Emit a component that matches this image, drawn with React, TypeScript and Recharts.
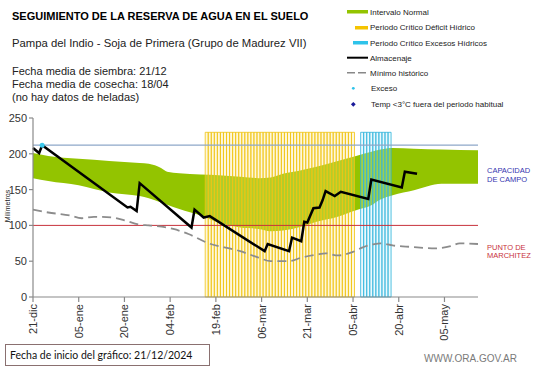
import { ComposedChart, Area, Bar, Line, XAxis, YAxis, ReferenceLine } from 'recharts'

// eje X: días desde el 21-dic
const lastDay = 146
const tickDays = [0, 15, 30, 45, 60, 75, 90, 105, 120, 135]
const tickLabels = ['21-dic', '05-ene', '20-ene', '04-feb', '19-feb', '06-mar', '21-mar', '05-abr', '20-abr', '05-may']
const yTicks = [0, 50, 100, 150, 200, 250]

// [día, mm]
const almacenaje: [number, number][] = [
  [0, 208], [2, 201], [3, 212], [31, 125], [32, 126], [34, 120], [35, 159],
  [52, 97], [53, 122], [56, 111], [58, 113], [76, 64], [77, 74], [84, 64],
  [85, 83], [88, 78], [89, 105], [90, 104], [92, 124], [94, 125], [95, 135],
  [96, 148], [99, 141], [101, 147], [110, 137], [111, 164], [121, 153],
  [122, 175], [126, 172],
]

// [día, mínimo, máximo] del intervalo normal
const intervaloNormal: [number, number, number][] = [
  [0, 166, 201], [5, 162, 197], [15, 156, 193], [25, 146, 190], [35, 141, 187],
  [38, 138, 186], [42, 132, 180], [44, 129, 175], [48, 123, 173], [55, 114, 171],
  [61, 104, 170], [68, 97, 168], [74, 95, 166], [78, 92, 167], [82, 93, 172],
  [88, 98, 177], [93, 105, 182], [100, 112, 190], [106, 121, 197], [111, 128, 203],
  [114, 136, 206], [118, 142, 208], [125, 149, 207], [134, 158, 206], [146, 158, 205],
]

const minimoHistorico: [number, number][] = [
  [0, 122], [5, 118], [12, 114], [16, 110], [20, 112], [26, 111], [30, 107],
  [35, 101], [38, 100], [46, 95], [51, 88], [57, 76], [68, 64], [74, 55],
  [78, 50], [84, 50], [88, 55], [93, 59], [96, 61], [100, 58], [105, 63],
  [108, 69], [112, 74], [114, 75], [118, 72], [124, 70], [132, 68], [137, 71],
  [140, 75], [146, 74],
]

const excesos: [number, number][] = [[3, 212]]

const periodoDeficit = [57, 105]
const periodoExcesos = [108, 117]
const alturaPeriodo = 230

const capacidadCampo = 212
const puntoMarchitez = 100

type Row = {
  day: number
  almacenaje?: number
  normal?: [number, number]
  minimo?: number
  exceso?: number
  deficit?: number
  excesoP?: number
}

const rows: Row[] = []
for (let d = 0; d <= lastDay; d++) {
  const r: Row = { day: d }
  if (d >= periodoDeficit[0] && d <= periodoDeficit[1]) r.deficit = alturaPeriodo
  if (d >= periodoExcesos[0] && d <= periodoExcesos[1]) r.excesoP = alturaPeriodo
  rows.push(r)
}
almacenaje.forEach(([d, v]) => (rows[d].almacenaje = v))
intervaloNormal.forEach(([d, lo, hi]) => (rows[d].normal = [lo, hi]))
minimoHistorico.forEach(([d, v]) => (rows[d].minimo = v))
excesos.forEach(([d, v]) => (rows[d].exceso = v))

const GREEN = '#93c400'
const FONT = '"Liberation Sans", Arial, sans-serif'

const DateTick = (props: any) => {
  const { x, y, payload } = props
  const i = tickDays.indexOf(payload.value)
  return (
    <text
      x={x}
      y={y}
      dy={4}
      transform={`rotate(-90 ${x} ${y})`}
      textAnchor="end"
      fontSize={11}
      fontFamily={FONT}
      fill="#333"
    >
      {tickLabels[i]}
    </text>
  )
}

const Overlay = () => (
  <svg
    width={541}
    height={368}
    style={{ position: 'absolute', left: 0, top: 0, pointerEvents: 'none' }}
    fontFamily={FONT}
  >
    <text x={12} y={19.5} fontSize={11} fontWeight="bold" fill="#000">
      SEGUIMIENTO DE LA RESERVA DE AGUA  EN EL SUELO
    </text>
    <text x={12} y={47} fontSize={11.3} fill="#222">
      Pampa del Indio - Soja de Primera (Grupo de Madurez VII)
    </text>
    <text x={12} y={74.5} fontSize={11} fill="#222">Fecha media de siembra: 21/12</text>
    <text x={12} y={87.5} fontSize={11} fill="#222">Fecha media de cosecha: 18/04</text>
    <text x={12} y={100.5} fontSize={11} fill="#222">(no hay  datos de heladas)</text>

    {/* leyenda */}
    <rect x={347} y={10} width={21} height={3.5} fill={GREEN} />
    <rect x={355} y={26} width={13} height={3.5} fill="#f5c400" />
    <rect x={353} y={41} width={15} height={3.5} fill="#2ec3ea" />
    <line x1={347} x2={368} y1={57.7} y2={57.7} stroke="#000" strokeWidth={2} />
    <line x1={347} x2={368} y1={72.7} y2={72.7} stroke="#888" strokeWidth={1.5} strokeDasharray="8 3" />
    <circle cx={353.3} cy={88.3} r={1.4} fill="#2ec3ea" />
    <rect x={351.6} y={102.6} width={3.4} height={3.4} fill="#1a1a9a" transform="rotate(45 353.3 104.3)" />
    <g fontSize={8} fill="#222">
      <text x={370} y={14.5}>Intervalo Normal</text>
      <text x={370} y={29.5}>Periodo Crítico Déficit Hídrico</text>
      <text x={370} y={45.5}>Periodo Crítico Excesos Hídricos</text>
      <text x={370} y={60.5}>Almacenaje</text>
      <text x={370} y={75.5}>Mínimo histórico</text>
      <text x={371} y={91.1}>Exceso</text>
      <text x={371} y={107.1}>Temp &lt;3°C fuera del periodo habitual</text>
    </g>

    <text
      x={7.5}
      y={206}
      transform="rotate(-90 7.5 206)"
      textAnchor="middle"
      dy={2.5}
      fontSize={7}
      fill="#222"
    >
      Milímetros
    </text>

    <g fontSize={7.5} fill="#3535b0">
      <text x={487} y={173.3}>CAPACIDAD</text>
      <text x={487} y={182}>DE  CAMPO</text>
    </g>
    <g fontSize={7.5} fill="#c8323c">
      <text x={487} y={249.5}>PUNTO  DE</text>
      <text x={487} y={258.3}>MARCHITEZ</text>
    </g>

    <rect x={5.5} y={344.5} width={204} height={21} fill="none" stroke="#8a7070" strokeWidth={1} />
    <text x={10} y={359} fontSize={10.5} fontFamily="Lato, sans-serif" fill="#111">
      Fecha de inicio del gráfico:  21/12/2024
    </text>
    <text x={424} y={361.5} fontSize={10} fill="#7a7a7a">
      WWW.ORA.GOV.AR
    </text>
  </svg>
)

export default function App() {
  return (
    <div style={{ position: 'absolute', left: 0, top: 0, width: 541, height: 368, background: '#fff' }}>
      <ComposedChart
        width={541}
        height={368}
        data={rows}
        margin={{ top: 118, right: 63, bottom: 0, left: 0 }}
      >
        <XAxis
          dataKey="day"
          type="number"
          domain={[0, lastDay]}
          ticks={tickDays}
          interval={0}
          height={71}
          stroke="#8a8a8a"
          strokeWidth={1.2}
          tickSize={5}
          tick={<DateTick />}
        />
        <YAxis
          type="number"
          domain={[0, 250]}
          ticks={yTicks}
          interval={0}
          width={33}
          stroke="#8a8a8a"
          strokeWidth={1.2}
          tickSize={4}
          tick={{ fontSize: 11, fill: '#333', fontFamily: FONT }}
        />
        <Area
          dataKey="normal"
          type="monotone"
          stroke="none"
          fill={GREEN}
          fillOpacity={1}
          connectNulls
          activeDot={false}
          isAnimationActive={false}
        />
        <Bar
          dataKey="deficit"
          stackId="p"
          barSize={3}
          fill="#fbe68a"
          fillOpacity={0.3}
          stroke="#f0c410"
          strokeOpacity={1}
          strokeWidth={0.8}
          isAnimationActive={false}
        />
        <Bar
          dataKey="excesoP"
          stackId="p"
          barSize={3}
          fill="#bdebf7"
          fillOpacity={0.3}
          stroke="#2fb4dc"
          strokeOpacity={1}
          strokeWidth={0.8}
          isAnimationActive={false}
        />
        <ReferenceLine y={capacidadCampo} stroke="#8ea7c9" strokeWidth={1.2} />
        <ReferenceLine y={puntoMarchitez} stroke="#c8323c" strokeWidth={1} />
        <Line
          dataKey="minimo"
          type="monotone"
          stroke="#8c8c8c"
          strokeWidth={1.8}
          strokeDasharray="9 5"
          dot={false}
          activeDot={false}
          connectNulls
          isAnimationActive={false}
        />
        <Line
          dataKey="almacenaje"
          type="linear"
          stroke="#000"
          strokeWidth={2.5}
          dot={false}
          activeDot={false}
          connectNulls
          isAnimationActive={false}
        />
        <Line
          dataKey="exceso"
          stroke="none"
          dot={{ r: 2.5, fill: '#3cc8ec', stroke: 'none' }}
          activeDot={false}
          isAnimationActive={false}
        />
      </ComposedChart>
      <Overlay />
    </div>
  )
}
